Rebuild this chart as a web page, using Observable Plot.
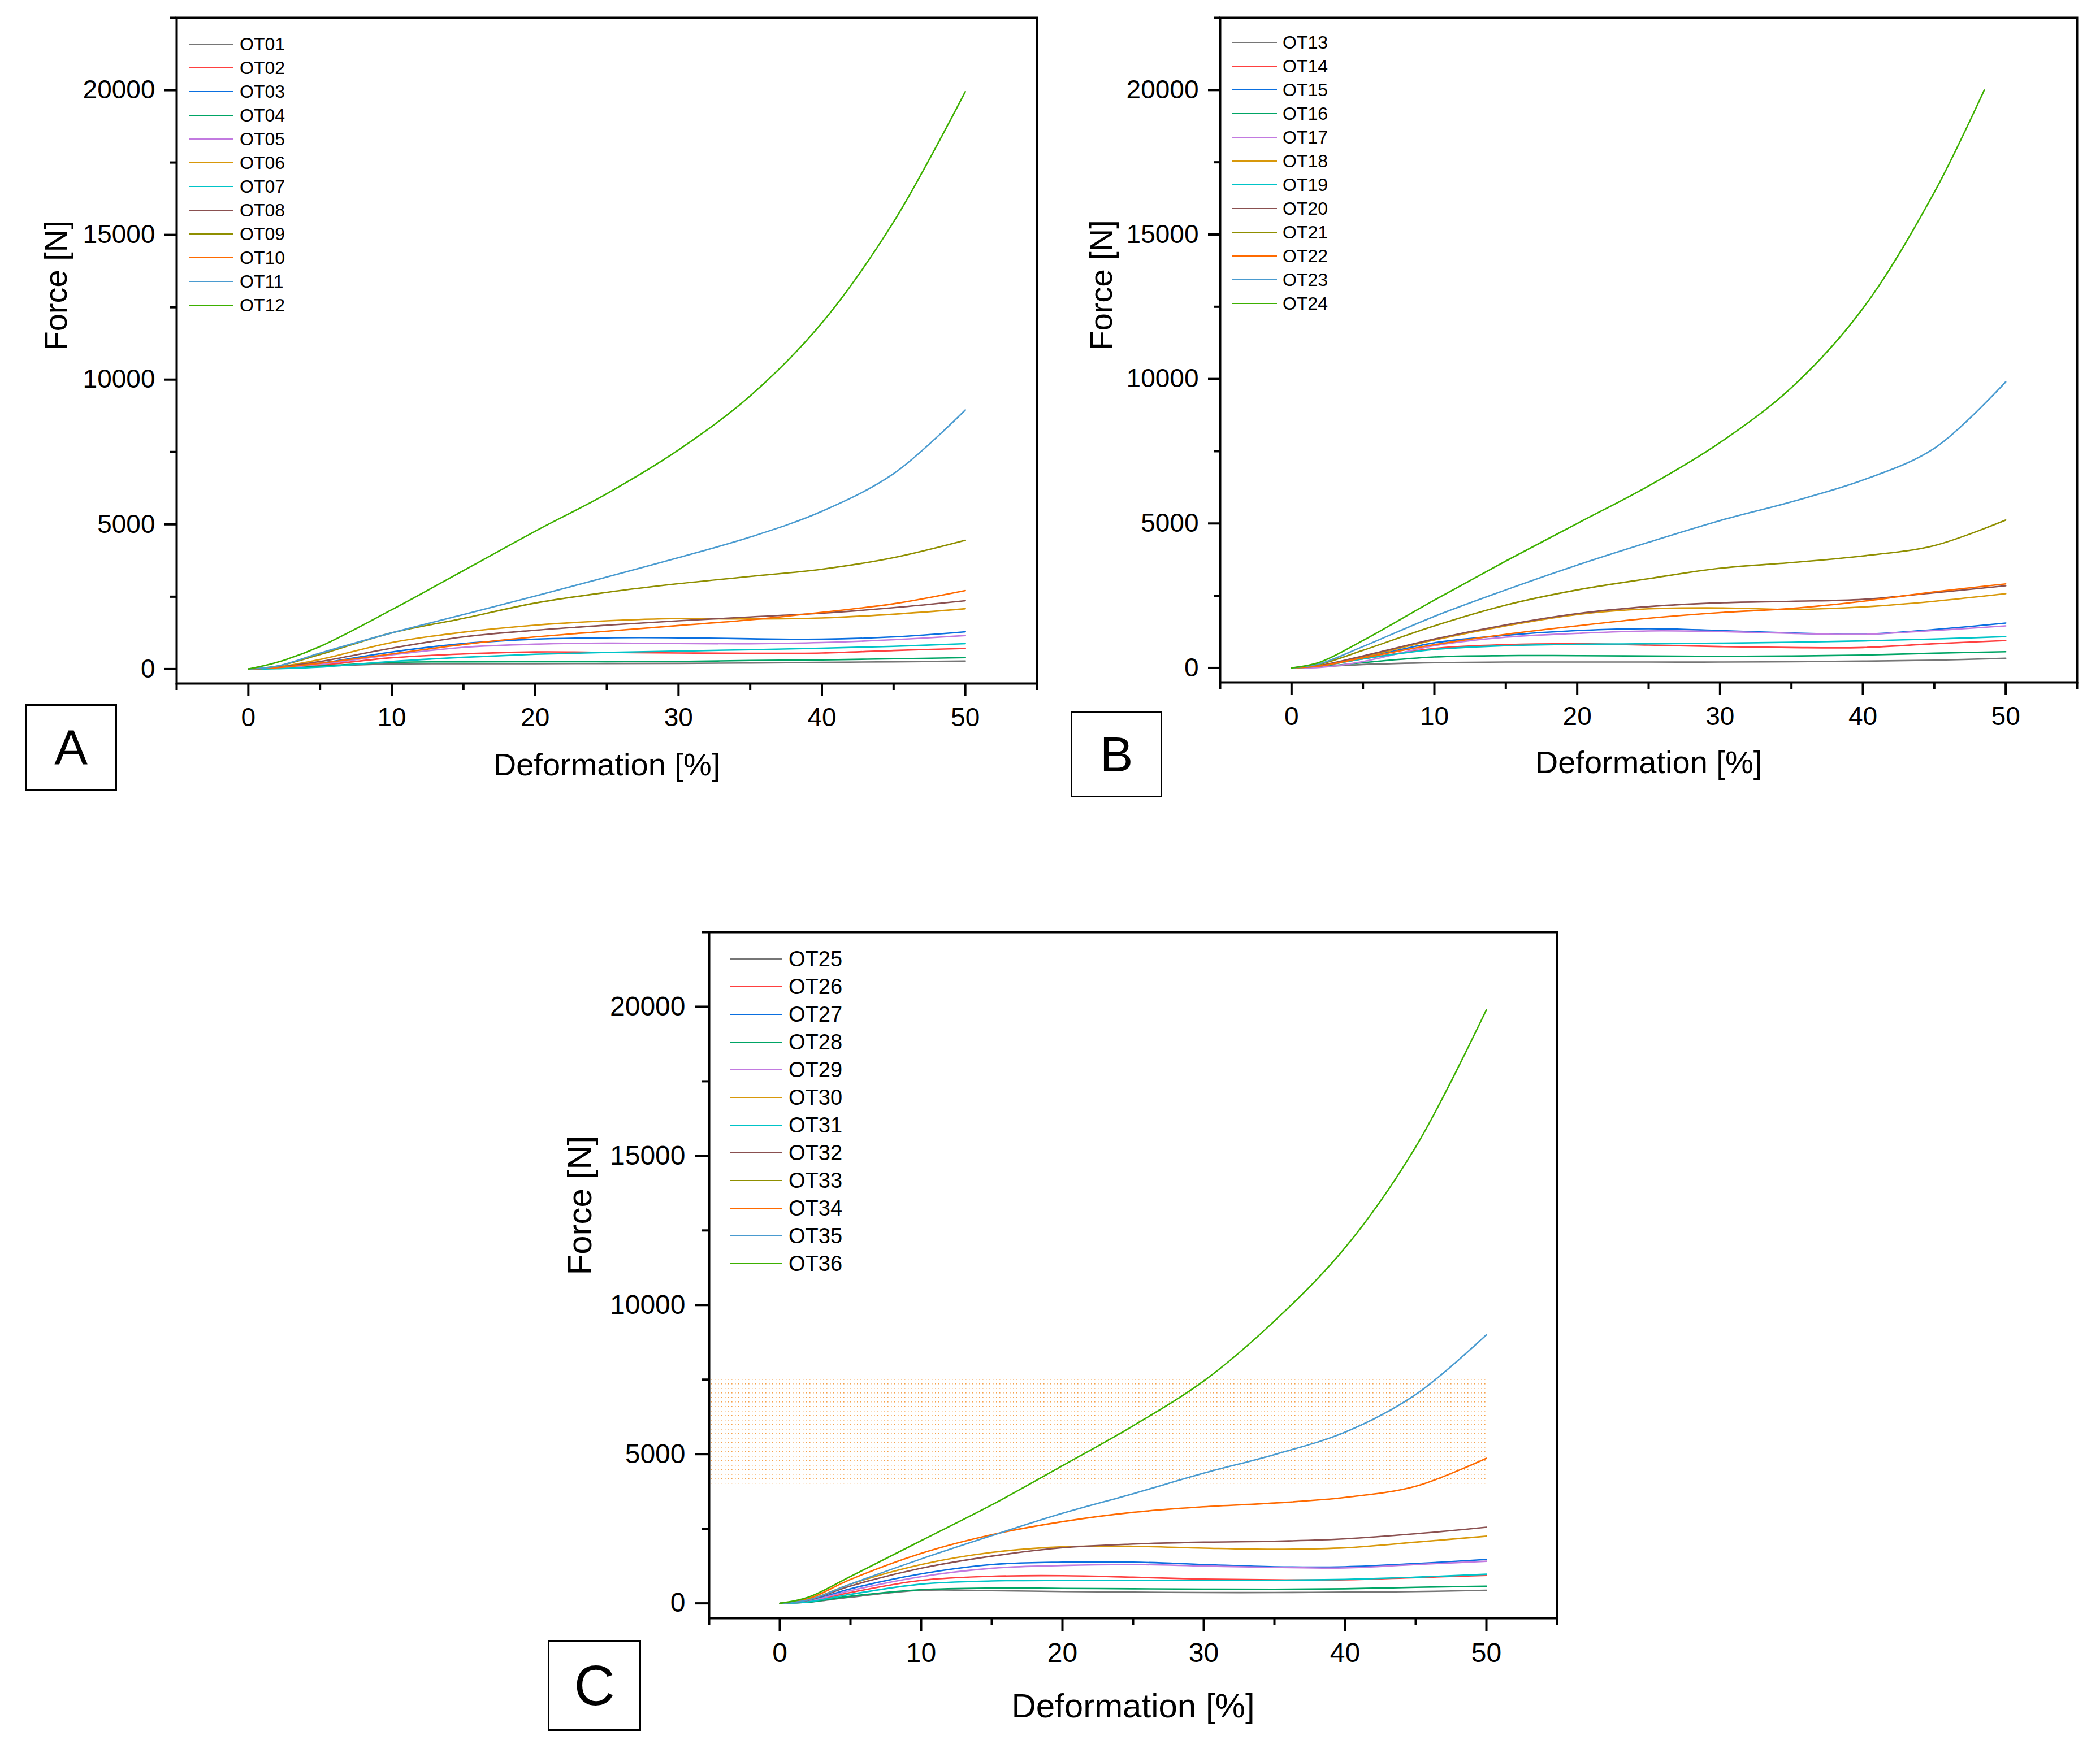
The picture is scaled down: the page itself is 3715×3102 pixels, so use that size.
<!DOCTYPE html>
<html>
<head>
<meta charset="utf-8">
<script src="https://cdn.jsdelivr.net/npm/d3@7"></script>
<script src="https://cdn.jsdelivr.net/npm/@observablehq/plot@0.6"></script>
<style>
  body { margin: 0; background: #fff; }
  #page { position: relative; width: 3715px; height: 3102px; background: #fff; overflow: hidden;
          font-family: "Liberation Sans", Arial, sans-serif; color: #000; }
  .panel { position: absolute; }
  .legend { position: absolute; }
  .legend .row { position: absolute; left: 0; height: 40px; display: flex; align-items: center; white-space: nowrap; }
  .legend .swatch { display: inline-block; height: 0; }
  .tag { position: absolute; border: 3px solid #000; background: #fff; box-sizing: border-box;
         display: flex; align-items: center; justify-content: center; }
</style>
</head>
<body>
<div id="page"></div>
<script>
// deformation steps (%) where the curves were read
const deformation = [0, 2, 5, 10, 15, 20, 25, 30, 35, 40, 45, 50]
const deformationOT24 = [0, 2, 5, 10, 15, 20, 25, 30, 35, 40, 45, 48.5]

// panel A, force [N]
const namesA = ["OT01", "OT02", "OT03", "OT04", "OT05", "OT06", "OT07", "OT08", "OT09", "OT10", "OT11", "OT12"]
const OT01 = [0, 30, 100, 175, 185, 185, 190, 195, 210, 230, 250, 275]
const OT02 = [0, 40, 130, 390, 520, 590, 575, 555, 542, 555, 640, 712]
const OT03 = [0, 50, 200, 590, 880, 1030, 1080, 1080, 1045, 1030, 1110, 1288]
const OT04 = [0, 30, 100, 230, 250, 255, 255, 260, 295, 315, 355, 392]
const OT05 = [0, 40, 165, 490, 750, 860, 895, 880, 875, 915, 1013, 1157]
const OT06 = [0, 70, 330, 915, 1275, 1516, 1667, 1745, 1730, 1765, 1895, 2085]
const OT07 = [0, 15, 65, 260, 405, 510, 575, 620, 667, 720, 785, 876]
const OT08 = [0, 60, 260, 720, 1110, 1340, 1516, 1667, 1800, 1930, 2120, 2360]
const OT09 = [0, 100, 500, 1250, 1750, 2280, 2650, 2950, 3200, 3450, 3850, 4450]
const OT10 = [0, 50, 200, 520, 850, 1110, 1307, 1503, 1700, 1960, 2255, 2712]
const OT11 = [0, 100, 550, 1250, 1880, 2520, 3180, 3850, 4560, 5450, 6750, 8950]
const OT12 = [0, 230, 780, 2050, 3400, 4760, 6060, 7570, 9440, 11960, 15450, 19950]

// panel B, force [N]
const namesB = ["OT13", "OT14", "OT15", "OT16", "OT17", "OT18", "OT19", "OT20", "OT21", "OT22", "OT23", "OT24"]
const OT13 = [0, 40, 118, 183, 203, 203, 203, 203, 215, 235, 268, 333]
const OT14 = [0, 70, 314, 673, 804, 837, 791, 739, 706, 706, 837, 948]
const OT15 = [0, 80, 346, 869, 1130, 1294, 1359, 1294, 1209, 1163, 1330, 1555]
const OT16 = [0, 40, 183, 379, 425, 425, 412, 399, 412, 444, 510, 562]
const OT17 = [0, 20, 220, 771, 1065, 1196, 1281, 1261, 1196, 1163, 1294, 1457]
const OT18 = [0, 80, 379, 967, 1457, 1850, 2046, 2078, 2026, 2111, 2307, 2569]
const OT19 = [0, 70, 314, 640, 771, 817, 837, 856, 889, 935, 1000, 1085]
const OT20 = [0, 90, 412, 1000, 1490, 1882, 2124, 2255, 2307, 2372, 2600, 2843]
const OT21 = [0, 130, 608, 1457, 2176, 2700, 3090, 3450, 3647, 3875, 4235, 5117]
const OT22 = [0, 70, 346, 804, 1163, 1457, 1719, 1915, 2059, 2307, 2634, 2908]
const OT23 = [0, 150, 740, 1784, 2700, 3560, 4350, 5100, 5750, 6500, 7600, 9900]
const OT24 = [0, 200, 950, 2350, 3700, 5000, 6300, 7800, 9700, 12440, 16460, 20000]

// panel C, force [N] (OT33 is in the legend but no curve is visible)
const namesC = ["OT25", "OT26", "OT27", "OT28", "OT29", "OT30", "OT31", "OT32", "OT33", "OT34", "OT35", "OT36"]
const OT25 = [0, 40, 206, 437, 425, 394, 375, 362, 362, 375, 394, 437]
const OT26 = [0, 60, 362, 769, 906, 925, 875, 812, 787, 787, 862, 937]
const OT27 = [0, 80, 487, 987, 1300, 1381, 1381, 1300, 1225, 1225, 1331, 1469]
const OT28 = [0, 40, 237, 456, 512, 500, 487, 475, 469, 487, 537, 575]
const OT29 = [0, 70, 425, 894, 1175, 1269, 1300, 1250, 1206, 1187, 1300, 1412]
const OT30 = [0, 110, 644, 1300, 1706, 1894, 1912, 1850, 1812, 1862, 2050, 2250]
const OT31 = [0, 50, 300, 644, 750, 769, 769, 769, 769, 800, 875, 975]
const OT32 = [0, 100, 581, 1175, 1581, 1862, 1987, 2050, 2081, 2162, 2331, 2550]
const OT33 = []
const OT34 = [0, 150, 800, 1675, 2300, 2737, 3050, 3237, 3362, 3550, 3925, 4862]
const OT35 = [0, 110, 644, 1487, 2269, 3019, 3675, 4362, 4987, 5737, 7000, 9000]
const OT36 = [0, 200, 900, 2100, 3300, 4612, 5950, 7455, 9464, 11920, 15300, 19900]

// shaded range in panel C
const bandDeformation = [-5, 50]
const bandForce = [4000, 7500]

// axis ticks
const xMajor = [0, 10, 20, 30, 40, 50]
const xMinor = [-5, 5, 15, 25, 35, 45, 55]
const yMajor = [0, 5000, 10000, 15000, 20000]
const yMinor = [2500, 7500, 12500, 17500, 22500]

const palette = ["#767676", "#ff4040", "#0a6fe0", "#00a565", "#c27ae0", "#d8980a",
                 "#00c4c8", "#8a5050", "#8f8f00", "#ff6a00", "#4a9bd0", "#3db000"]

const page = document.getElementById("page")

function rows(names, series) {
  return names.flatMap((name, i) => {
    const xs = name === "OT24" ? deformationOT24 : deformation
    return series[i].map((force, j) => ({name, deformation: xs[j], force}))
  })
}

function panel(p) {
  const chart = Plot.plot({
    width: p.width,
    height: p.height,
    marginLeft: p.ml, marginTop: p.mt, marginRight: p.mr, marginBottom: p.mb,
    style: {fontFamily: '"Liberation Sans", Arial, sans-serif', fontSize: p.tickFont + "px",
            background: "transparent", color: "#000", overflow: "visible"},
    x: {domain: [-5, 55]},
    y: {domain: [-500, 22500]},
    color: {domain: p.names, range: palette},
    marks: [
      p.band ? Plot.rect(p.band, {x1: "x1", x2: "x2", y1: "y1", y2: "y2", fill: "url(#dotsC)"}) : null,
      Plot.line(rows(p.names, p.series), {
        x: "deformation", y: "force", z: "name", stroke: "name",
        strokeWidth: 2.6, curve: "catmull-rom"
      }),
      Plot.frame({strokeWidth: 4}),
      Plot.axisX(xMajor, {tickSize: p.xTick, tickPadding: 20, strokeWidth: 4, label: null}),
      Plot.axisX(xMinor, {tickSize: Math.round(p.xTick / 2), strokeWidth: 4, fill: "none", label: null}),
      Plot.axisY(yMajor, {tickSize: p.yTick, tickPadding: 17, strokeWidth: 4, label: null, tickFormat: d3.format("d")}),
      Plot.axisY(yMinor, {tickSize: Math.round(p.yTick / 2), strokeWidth: 4, fill: "none", label: null}),
      Plot.text(["Force [N]"], {text: d => d, frameAnchor: "left", dx: p.yTitleDx, rotate: -90, fontSize: p.titleFont}),
      Plot.text(["Deformation [%]"], {text: d => d, frameAnchor: "bottom", dy: p.xTitleDy, fontSize: p.titleFont})
    ]
  })

  if (p.band) {
    // dotted fill like the original
    const ns = "http://www.w3.org/2000/svg"
    const defs = document.createElementNS(ns, "defs")
    const pat = document.createElementNS(ns, "pattern")
    pat.setAttribute("id", "dotsC")
    pat.setAttribute("patternUnits", "userSpaceOnUse")
    pat.setAttribute("width", "6")
    pat.setAttribute("height", "8")
    const dot = document.createElementNS(ns, "rect")
    dot.setAttribute("width", "1.6")
    dot.setAttribute("height", "1.6")
    dot.setAttribute("fill", "#f5a04a")
    pat.appendChild(dot)
    defs.appendChild(pat)
    chart.insertBefore(defs, chart.firstChild)
  }

  const wrap = document.createElement("div")
  wrap.className = "panel"
  wrap.style.left = p.left + "px"
  wrap.style.top = p.top + "px"
  wrap.appendChild(chart)
  page.appendChild(wrap)

  // legend
  const leg = document.createElement("div")
  leg.className = "legend"
  leg.style.left = p.legend.x + "px"
  leg.style.top = p.legend.y + "px"
  p.names.forEach((name, i) => {
    const row = document.createElement("div")
    row.className = "row"
    row.style.top = (i * p.legend.step - 20) + "px"
    row.style.fontSize = p.legend.font + "px"
    const sw = document.createElement("span")
    sw.className = "swatch"
    sw.style.width = p.legend.line + "px"
    sw.style.borderTop = "2.6px solid " + palette[i]
    sw.style.marginRight = p.legend.gap + "px"
    row.appendChild(sw)
    row.appendChild(document.createTextNode(name))
    leg.appendChild(row)
  })
  page.appendChild(leg)

  // panel letter box
  const tag = document.createElement("div")
  tag.className = "tag"
  tag.style.left = p.tag.x + "px"
  tag.style.top = p.tag.y + "px"
  tag.style.width = p.tag.w + "px"
  tag.style.height = p.tag.h + "px"
  tag.style.fontSize = p.tag.font + "px"
  tag.textContent = p.tag.text
  page.appendChild(tag)
}

panel({
  names: namesA,
  series: [OT01, OT02, OT03, OT04, OT05, OT06, OT07, OT08, OT09, OT10, OT11, OT12],
  left: 0, top: 0, width: 1874, height: 1439, ml: 312, mt: 31, mr: 40, mb: 230,
  tickFont: 46, titleFont: 56, xTick: 23, yTick: 21, yTitleDx: -212, xTitleDy: 162,
  legend: {x: 335, y: 78, step: 42, font: 32, line: 78, gap: 11},
  tag: {x: 44, y: 1246, w: 163, h: 154, font: 88, text: "A"}
})

panel({
  names: namesB,
  series: [OT13, OT14, OT15, OT16, OT17, OT18, OT19, OT20, OT21, OT22, OT23, OT24],
  left: 1860, top: 0, width: 1846, height: 1437, ml: 298, mt: 31, mr: 32, mb: 230,
  tickFont: 46, titleFont: 56, xTick: 23, yTick: 21, yTitleDx: -209, xTitleDy: 160,
  legend: {x: 2180, y: 75, step: 42, font: 32, line: 79, gap: 10},
  tag: {x: 1894, y: 1259, w: 162, h: 152, font: 88, text: "B"}
})

panel({
  names: namesC,
  series: [OT25, OT26, OT27, OT28, OT29, OT30, OT31, OT32, OT33, OT34, OT35, OT36],
  band: [{x1: bandDeformation[0], x2: bandDeformation[1], y1: bandForce[0], y2: bandForce[1]}],
  left: 940, top: 1560, width: 1854, height: 1533, ml: 314, mt: 89, mr: 40, mb: 230,
  tickFont: 48, titleFont: 60, xTick: 23, yTick: 25, yTitleDx: -228, xTitleDy: 175,
  legend: {x: 1292, y: 1697, step: 49, font: 38, line: 91, gap: 12},
  tag: {x: 969, y: 2902, w: 165, h: 161, font: 100, text: "C"}
})
</script>
</body>
</html>
